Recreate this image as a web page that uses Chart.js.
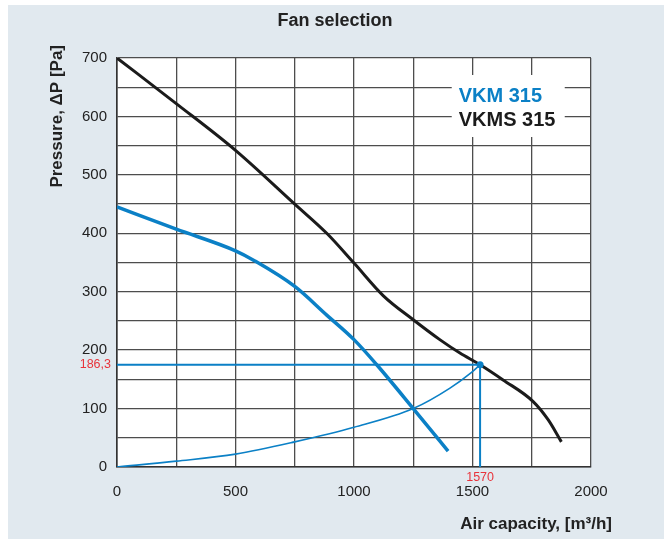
<!DOCTYPE html>
<html>
<head>
<meta charset="utf-8">
<script src="https://cdn.jsdelivr.net/npm/chart.js@4.4.1/dist/chart.umd.min.js"></script>
<style>
  html, body { margin: 0; padding: 0; background: #fff; }
  #wrap { width: 664px; height: 539px; position: relative; }
</style>
</head>
<body>
<div id="wrap"><canvas id="fan-chart" width="664" height="539"></canvas></div>
<script>
// VKMS 315 fan curve (black)
var flowVKMS = [0, 250, 500, 750, 885, 1000, 1124, 1250, 1362, 1447, 1532, 1629, 1756, 1819, 1875];
var pressVKMS = [700, 622, 542, 450, 400, 349, 293, 252, 218, 195, 175, 149, 112, 81, 43];

// VKM 315 fan curve (blue)
var flowVKM = [0, 250, 500, 576, 750, 885, 1000, 1096, 1250, 1397];
var pressVKM = [445, 407, 370, 354, 309, 260, 218, 175, 100, 27];

// system (network) curve
var flowSys = [0, 250, 500, 750, 1000, 1250, 1405, 1496, 1532];
var pressSys = [0, 10, 22, 43, 68, 100, 135, 162, 175];

// operating point and its labels
var opFlow = 1532;
var opPressure = 175;
var opFlowLabel = "1570";
var opPressureLabel = "186,3";

var seriesNames = ["VKM 315", "VKMS 315"];
var xTicksLabelled = [0, 500, 1000, 1500, 2000];
var yTicksLabelled = [0, 100, 200, 300, 400, 500, 600, 700];

var BLUE = "#0b80c6";
var BLACK = "#1b1b1b";
var RED = "#e8333b";
var FONT = "'Liberation Sans', Arial, sans-serif";

function toPoints(xs, ys) {
    var pts = [];
    for (var i = 0; i < xs.length; i++) pts.push({ x: xs[i], y: ys[i] });
    return pts;
}

var decor = {
    id: "decor",
    beforeDraw: function (chart) {
        var c = chart.ctx;
        c.save();
        c.fillStyle = "#e1e9ef";
        c.fillRect(8, 5, chart.width - 8, chart.height - 5);
        var a = chart.chartArea;
        c.fillStyle = "#ffffff";
        c.fillRect(a.left, a.top, a.right - a.left, a.bottom - a.top);
        c.restore();
    },
    beforeDatasetsDraw: function (chart) {
        var c = chart.ctx;
        var xs = chart.scales.x;
        c.save();
        // legend box, covers the grid
        var lx = xs.getPixelForValue(1425);
        c.fillStyle = "#ffffff";
        c.fillRect(lx - 3, 75, 113, 62);
        c.font = "bold 20px " + FONT;
        c.textBaseline = "middle";
        c.textAlign = "left";
        c.fillStyle = BLUE;
        c.fillText(seriesNames[0], lx + 4, 96);
        c.fillStyle = BLACK;
        c.fillText(seriesNames[1], lx + 4, 120);
        c.restore();
    },
    afterDraw: function (chart) {
        var c = chart.ctx;
        var a = chart.chartArea;
        var xs = chart.scales.x, ys = chart.scales.y;
        c.save();
        c.fillStyle = "#222";
        c.textBaseline = "middle";
        c.textAlign = "center";
        c.font = "bold 18px " + FONT;
        c.fillText("Fan selection", 335, 21);

        c.font = "bold 17px " + FONT;
        c.textAlign = "right";
        c.fillText("Air capacity, [m\u00b3/h]", 612, 524);

        c.translate(57, 45);
        c.rotate(-Math.PI / 2);
        c.fillText("Pressure, \u0394P [Pa]", 0, 0);
        c.setTransform(1, 0, 0, 1, 0, 0);

        c.fillStyle = RED;
        c.font = "12.5px " + FONT;
        c.textAlign = "right";
        c.fillText(opPressureLabel, a.left - 6, ys.getPixelForValue(opPressure));
        c.textAlign = "center";
        c.fillText(opFlowLabel, xs.getPixelForValue(opFlow), a.bottom + 11);
        c.restore();
    }
};

var ctx = document.getElementById("fan-chart");
new Chart(ctx, {
    type: "line",
    data: {
        datasets: [{
            label: "system",
            data: toPoints(flowSys, pressSys),
            borderColor: BLUE,
            borderWidth: 1.6,
            pointRadius: 0,
            cubicInterpolationMode: "monotone",
            fill: false
        }, {
            label: "operating point",
            data: [{ x: 0, y: opPressure }, { x: opFlow, y: opPressure }, { x: opFlow, y: 0 }],
            borderColor: BLUE,
            borderWidth: 2,
            pointRadius: [0, 3.5, 0],
            pointBackgroundColor: BLUE,
            pointBorderWidth: 0,
            tension: 0,
            fill: false
        }, {
            label: seriesNames[0],
            data: toPoints(flowVKM, pressVKM),
            borderColor: BLUE,
            borderWidth: 3.5,
            pointRadius: 0,
            cubicInterpolationMode: "monotone",
            fill: false
        }, {
            label: seriesNames[1],
            data: toPoints(flowVKMS, pressVKMS),
            borderColor: BLACK,
            borderWidth: 3,
            pointRadius: 0,
            cubicInterpolationMode: "monotone",
            fill: false
        }]
    },
    options: {
        responsive: false,
        animation: false,
        layout: { padding: { left: 0, top: 58, right: 73, bottom: 0 } },
        plugins: {
            legend: { display: false },
            title: { display: false },
            tooltip: { enabled: false }
        },
        scales: {
            x: {
                type: "linear",
                min: 0,
                max: 2000,
                afterFit: function (s) { s.height = 72; },
                ticks: {
                    stepSize: 250,
                    padding: 16,
                    color: "#222",
                    font: { family: FONT, size: 15 },
                    maxRotation: 0,
                    callback: function (v) { return xTicksLabelled.indexOf(v) >= 0 ? v : ""; }
                },
                grid: { color: "#4d4d4d", lineWidth: 1.3, drawTicks: false },
                border: { color: "#333", width: 1.6 }
            },
            y: {
                min: 0,
                max: 700,
                afterFit: function (s) { s.width = 117; },
                ticks: {
                    stepSize: 50,
                    padding: 10,
                    color: "#222",
                    font: { family: FONT, size: 15 },
                    callback: function (v) { return yTicksLabelled.indexOf(v) >= 0 ? v : ""; }
                },
                grid: { color: "#4d4d4d", lineWidth: 1.3, drawTicks: false },
                border: { color: "#333", width: 1.6 }
            }
        }
    },
    plugins: [decor]
});
</script>
</body>
</html>
